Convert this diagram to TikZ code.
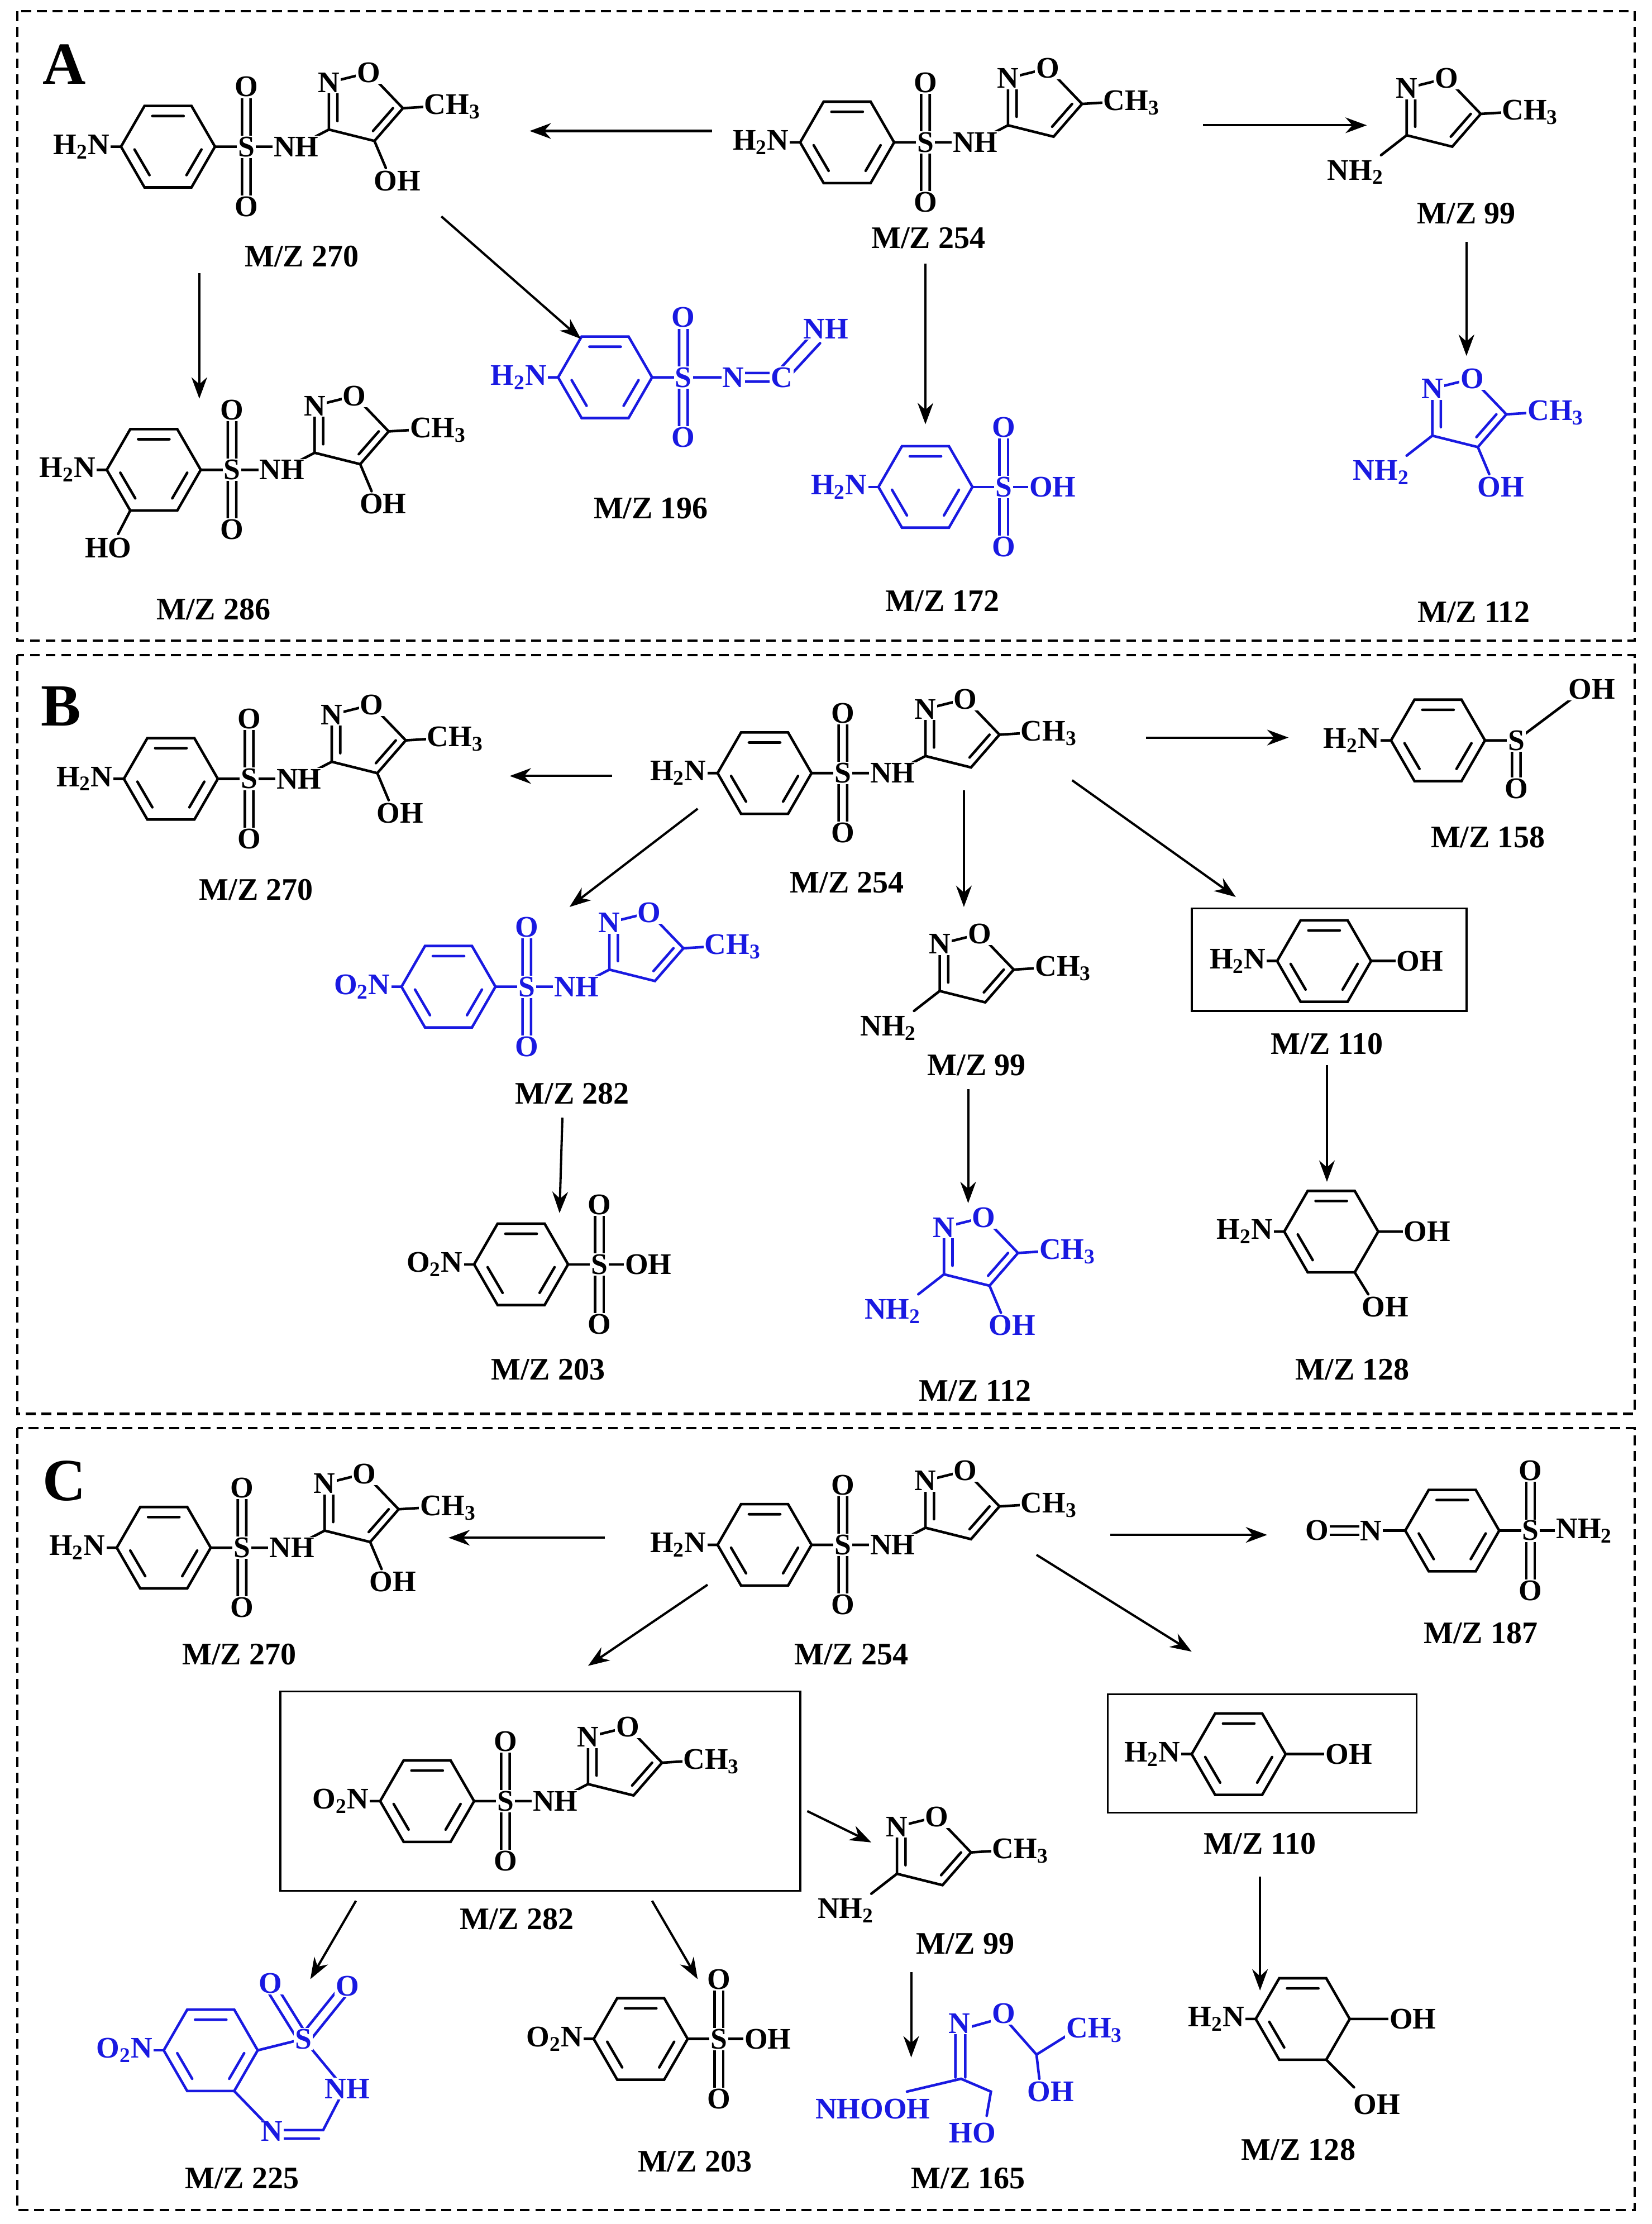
\documentclass[tikz,border=0pt]{standalone}
\usepackage{fontspec}
\setmainfont{Liberation Serif}
\usetikzlibrary{arrows.meta}
\definecolor{mb}{RGB}{25,25,225}
\newcommand\atf{\fontsize{21}{23}\selectfont\bfseries}
\newcommand\lbf{\fontsize{22}{24}\selectfont\bfseries}
\tikzset{
 atom/.style={fill=white,inner sep=0.8pt,font=\atf},
 lab/.style={font=\lbf,inner sep=1pt},
 bd/.style={line width=1.8pt,line cap=round},
 arr/.style={line width=1.6pt,-{Stealth[length=15pt,width=11pt]}},
 box/.style={line width=1.4pt},
 panel/.style={line width=1.6pt,dash pattern=on 7pt off 4pt}
}
\newcommand\myBenz{%
 \draw[bd] (33,0)--(16.5,28.6)--(-16.5,28.6)--(-33,0)--(-16.5,-28.6)--(16.5,-28.6)--cycle;
 \draw[bd] (-11,-21.5)--(11,-21.5) (23.5,2)--(13,20) (-23.5,2)--(-13,20);}
\newcommand\myDiene{%
 \draw[bd] (33,0)--(16.5,28.6)--(-16.5,28.6)--(-33,0)--(-16.5,-28.6)--(16.5,-28.6)--cycle;
 \draw[bd] (-11,-21.5)--(11,-21.5) (-23.5,2)--(-13,20);}
% isoxazole, origin at C3
\newcommand\myIso{%
 \draw[bd] (0,0)--(0,-33)--(28,-40)--(52,-15)--(32,8)--cycle;
 \draw[bd] (6,-6)--(6,-27) (45,-15)--(31,1);
 \node[atom] at (0,-33){N}; \node[atom] at (28,-40){O};}
% sulfonamide core: #1 x, #2 y, #3 left label, #4 colour, #5 extra in isoxazole frame
\newcommand\SMX[5]{%
 \begin{scope}[shift={(#1,#2)},color=#4]
 \myBenz
 \draw[bd] (-33,0)--(-42,0) (33,0)--(55,0)--(90,0)--(113,-12)
   (52,0)--(52,-42) (58,0)--(58,-42) (52,0)--(52,42) (58,0)--(58,42);
 \begin{scope}[shift={(113,-12)}]
  \myIso
  \draw[bd] (52,-15)--(68,-16);
  \node[atom,anchor=west] at (66,-16){CH\textsubscript{3}};
  #5
 \end{scope}
 \node[atom] at (55,0){S}; \node[atom] at (55,-42){O}; \node[atom] at (55,42){O};
 \node[atom] at (90,0){NH};
 \node[atom,anchor=east] at (-40,0){#3};
 \end{scope}}
\newcommand\OHiso{\draw[bd] (32,8)--(40,27); \node[atom] at (48,36){OH};}
% isolated aminoisoxazole: #1 x #2 y (C3) #3 colour #4 extra
\newcommand\ISO[4]{%
 \begin{scope}[shift={(#1,#2)},color=#3]
 \myIso
 \draw[bd] (52,-15)--(68,-16) (0,0)--(-18,14);
 \node[atom,anchor=west] at (66,-16){CH\textsubscript{3}};
 \node[atom] at (-36,26){NH\textsubscript{2}};
 #4
 \end{scope}}
% benzenesulfonyl with right group: #1 x #2 y #3 left label #4 colour #5 right label of S
\newcommand\BSO[5]{%
 \begin{scope}[shift={(#1,#2)},color=#4]
 \myBenz
 \draw[bd] (-33,0)--(-42,0) (33,0)--(55,0)--(88,0)
   (52,0)--(52,-42) (58,0)--(58,-42) (52,0)--(52,42) (58,0)--(58,42);
 \node[atom] at (55,0){S}; \node[atom] at (55,-42){O}; \node[atom] at (55,42){O};
 \node[atom,anchor=west] at (72,0){#5};
 \node[atom,anchor=east] at (-40,0){#3};
 \end{scope}}
\begin{document}
\begin{tikzpicture}[x=1pt,y=-1pt]
\useasboundingbox (0,0) rectangle (1160,1562);
\fill[white] (0,0) rectangle (1160,1562);
% panels
\draw[panel] (12,8) rectangle (1148,450);
\draw[panel] (12,460) rectangle (1148,993);
\draw[panel] (12,1003) rectangle (1148,1552);
\node[font=\fontsize{42}{44}\selectfont\bfseries] (pA) at (45,45){A};
\node[font=\fontsize{42}{44}\selectfont\bfseries] (pB) at (43,496){B};
\node[font=\fontsize{42}{44}\selectfont\bfseries] (pC) at (45,1040){C};

% ================= A =================
\SMX{595}{100}{H\textsubscript{2}N}{black}{}
\node[lab] (a254) at (652,167){M/Z 254};
\SMX{118}{103}{H\textsubscript{2}N}{black}{\OHiso}
\node[lab] (a270) at (212,180){M/Z 270};
\SMX{108}{330}{H\textsubscript{2}N}{black}{\OHiso}
\begin{scope}[shift={(108,330)}]
 \draw[bd] (-16.5,28.6)--(-25,45); \node[atom] at (-32,55){HO};
\end{scope}
\node[lab] (a286) at (150,428){M/Z 286};
% 196
\begin{scope}[shift={(425,265)},color=mb]
 \myBenz
 \draw[bd] (-33,0)--(-42,0) (33,0)--(55,0)--(90,0)
   (52,0)--(52,-42) (58,0)--(58,-42) (52,0)--(52,42) (58,0)--(58,42)
   (90,-3)--(124,-3) (90,3)--(124,3) (121,-4)--(145,-30) (127,2)--(151,-24);
 \node[atom] at (55,0){S}; \node[atom] at (55,-42){O}; \node[atom] at (55,42){O};
 \node[atom] at (90,0){N}; \node[atom] at (124,0){C}; \node[atom] at (155,-34){NH};
 \node[atom,anchor=east] at (-40,0){H\textsubscript{2}N};
\end{scope}
\node[lab] (a196) at (457,357){M/Z 196};
\BSO{650}{342}{H\textsubscript{2}N}{mb}{OH}
\node[lab] (a172) at (662,422){M/Z 172};
\ISO{988}{95}{black}{}
\node[lab] (a99) at (1030,150){M/Z 99};
\ISO{1006}{306}{mb}{\OHiso}
\node[lab] (a112) at (1035,430){M/Z 112};
\draw[arr] (500,92)--(372,92);
\draw[arr] (845,88)--(960,88);
\draw[arr] (1030,170)--(1030,250);
\draw[arr] (140,192)--(140,280);
\draw[arr] (310,152)--(408,238);
\draw[arr] (650,185)--(650,298);

% ================= B =================
\SMX{537}{543}{H\textsubscript{2}N}{black}{}
\node[lab] (b254) at (595,620){M/Z 254};
\SMX{120}{547}{H\textsubscript{2}N}{black}{\OHiso}
\node[lab] (b270) at (180,625){M/Z 270};
\draw[arr] (430,545)--(358,545);
\draw[arr] (805,518)--(905,518);
% 158
\begin{scope}[shift={(1010,520)}]
 \myBenz
 \draw[bd] (-33,0)--(-42,0) (33,0)--(55,0)--(95,-30) (52,0)--(52,30) (58,0)--(58,30);
 \node[atom] at (55,0){S}; \node[atom] at (55,34){O}; \node[atom] at (108,-36){OH};
 \node[atom,anchor=east] at (-40,0){H\textsubscript{2}N};
\end{scope}
\node[lab] (b158) at (1045,588){M/Z 158};
\draw[arr] (753,548)--(868,630);
% 110
\draw[box] (837,638) rectangle (1030,710);
\begin{scope}[shift={(930,675)}]
 \myBenz
 \draw[bd] (-33,0)--(-42,0) (33,0)--(52,0);
 \node[atom,anchor=west] at (50,0){OH};
 \node[atom,anchor=east] at (-40,0){H\textsubscript{2}N};
\end{scope}
\node[lab] (b110) at (932,733){M/Z 110};
\draw[arr] (932,748)--(932,830);
% 128
\begin{scope}[shift={(935,865)}]
 \myDiene
 \draw[bd] (-33,0)--(-42,0) (33,0)--(52,0) (16.5,28.6)--(26,44);
 \node[atom,anchor=west] at (50,0){OH};
 \node[atom] at (38,53){OH};
 \node[atom,anchor=east] at (-40,0){H\textsubscript{2}N};
\end{scope}
\node[lab] (b128) at (950,962){M/Z 128};
\draw[arr] (677,555)--(677,637);
\ISO{660}{696}{black}{}
\node[lab] (b99) at (686,748){M/Z 99};
\draw[arr] (680,765)--(680,845);
\ISO{663}{895}{mb}{\OHiso}
\node[lab] (b112) at (685,977){M/Z 112};
\draw[arr] (490,568)--(400,637);
\SMX{315}{693}{O\textsubscript{2}N}{mb}{}
\node[lab] (b282) at (402,768){M/Z 282};
\draw[arr] (395,785)--(393,852);
\BSO{366}{888}{O\textsubscript{2}N}{black}{OH}
\node[lab] (b203) at (385,962){M/Z 203};

% ================= C =================
\SMX{537}{1085}{H\textsubscript{2}N}{black}{}
\node[lab] (c254) at (598,1162){M/Z 254};
\SMX{115}{1087}{H\textsubscript{2}N}{black}{\OHiso}
\node[lab] (c270) at (168,1162){M/Z 270};
\draw[arr] (425,1080)--(315,1080);
\draw[arr] (780,1078)--(890,1078);
% 187
\begin{scope}[shift={(1020,1075)}]
 \myBenz
 \draw[bd] (-33,0)--(-57,0) (-57,-3)--(-93,-3) (-57,3)--(-93,3) (33,0)--(55,0)--(80,0)
   (52,0)--(52,-42) (58,0)--(58,-42) (52,0)--(52,42) (58,0)--(58,42);
 \node[atom] at (-57,0){N}; \node[atom] at (-95,0){O};
 \node[atom] at (55,0){S}; \node[atom] at (55,-42){O}; \node[atom] at (55,42){O};
 \node[atom,anchor=west] at (72,0){NH\textsubscript{2}};
\end{scope}
\node[lab] (c187) at (1040,1147){M/Z 187};
\draw[arr] (728,1092)--(837,1160);
% 110
\draw[box] (778,1190) rectangle (995,1273);
\begin{scope}[shift={(870,1232)}]
 \myBenz
 \draw[bd] (-33,0)--(-42,0) (33,0)--(62,0);
 \node[atom,anchor=west] at (60,0){OH};
 \node[atom,anchor=east] at (-40,0){H\textsubscript{2}N};
\end{scope}
\node[lab] (c110) at (885,1295){M/Z 110};
\draw[arr] (885,1318)--(885,1398);
% 128
\begin{scope}[shift={(915,1418)}]
 \myDiene
 \draw[bd] (-33,0)--(-42,0) (33,0)--(62,0) (16.5,28.6)--(36,48);
 \node[atom,anchor=west] at (60,0){OH};
 \node[atom] at (52,60){OH};
 \node[atom,anchor=east] at (-40,0){H\textsubscript{2}N};
\end{scope}
\node[lab] (c128) at (912,1510){M/Z 128};
\draw[arr] (497,1113)--(413,1170);
% 282
\draw[box] (197,1188) rectangle (562,1328);
\SMX{300}{1265}{O\textsubscript{2}N}{black}{}
\node[lab] (c282) at (363,1348){M/Z 282};
\draw[arr] (567,1272)--(612,1294);
\ISO{630}{1316}{black}{}
\node[lab] (c99) at (678,1365){M/Z 99};
\draw[arr] (640,1385)--(640,1445);
% 165
\begin{scope}[color=mb]
 \draw[bd] (637,1469)--(675,1460)--(696,1469)--(693,1486)
   (671,1459)--(671,1428) (678,1459)--(678,1428)
   (673,1426)--(705,1417)--(728,1443)--(752,1428) (728,1443)--(730,1460);
 \node[atom] at (674,1421){N}; \node[atom] at (705,1414){O};
 \node[atom,anchor=west] at (748,1426){CH\textsubscript{3}};
 \node[atom] at (738,1469){OH};
 \node[atom] at (683,1498){HO};
 \node[atom] at (613,1481){NHOOH};
\end{scope}
\node[lab] (c165) at (680,1530){M/Z 165};
\draw[arr] (250,1335)--(218,1390);
\draw[arr] (458,1335)--(490,1390);
\BSO{450}{1432}{O\textsubscript{2}N}{black}{OH}
\node[lab] (c203) at (488,1518){M/Z 203};
% 225
\begin{scope}[color=mb]
 \begin{scope}[shift={(148,1440)}]
  \myBenz
  \draw[bd] (-33,0)--(-42,0);
  \node[atom,anchor=east] at (-40,0){O\textsubscript{2}N};
 \end{scope}
 \draw[bd] (181,1440)--(213,1432)--(242,1467)--(227,1496)--(191,1496)--(164.5,1468.6)
   (198,1502)--(224,1502)
   (210,1434)--(187,1397) (216,1430)--(193,1393)
   (211,1430)--(240,1394) (217,1434)--(246,1398);
 \node[atom] at (213,1432){S}; \node[atom] at (190,1393){O}; \node[atom] at (244,1395){O};
 \node[atom] at (244,1467){NH}; \node[atom] at (191,1497){N};
\end{scope}
\node[lab] (c225) at (170,1530){M/Z 225};
\end{tikzpicture}
\end{document}
